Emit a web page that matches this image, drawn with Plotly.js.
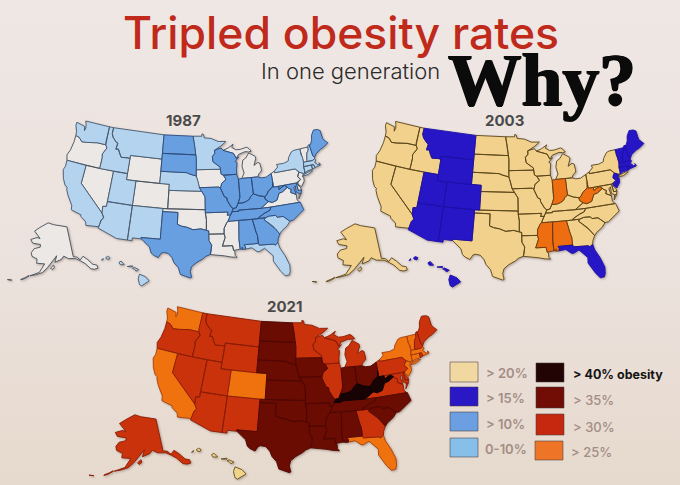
<!DOCTYPE html><html><head><meta charset="utf-8"><script src="https://cdn.plot.ly/plotly-3.0.1.min.js"></script>
<style>html,body{margin:0;padding:0;background:linear-gradient(180deg,#efe7e4 0%,#ece2dd 55%,#e6d9cd 100%);width:680px;height:485px;overflow:hidden}
.cartesianlayer{filter:drop-shadow(1px 1px 1px rgba(60,40,30,.35))}</style></head><body><div id="c" style="width:680px;height:485px"></div><script>
// State outlines, longitude / latitude pairs
const WA=[-124.7,48.4,-123.1,48.15,-122.7,48.1,-122.45,47.4,-122.3,47.9,-122.5,48.5,-122.8,49,-117.03,49,-117.04,46.42,-116.92,45.99,-118.98,46,-119.3,45.93,-121.2,45.65,-122.3,45.55,-122.8,45.9,-123.2,46.15,-124,46.27,-124.1,46.9,-124.7,47.9];
const OR=[-124,46.27,-123.2,46.15,-122.8,45.9,-122.3,45.55,-121.2,45.65,-119.3,45.93,-118.98,46,-116.92,45.99,-116.5,45.5,-117.2,44.4,-117.03,43.8,-117.03,42,-124.2,42,-124.55,42.85,-124.15,43.8,-123.95,45.2];
const CA=[-124.2,42,-120,42,-120,39,-114.63,35,-114.13,34.3,-114.5,33.9,-114.72,32.72,-117.12,32.53,-117.3,33.1,-118.4,33.75,-118.5,34.03,-119.2,34.15,-120.5,34.45,-120.65,35.15,-121.9,36.6,-122.5,37.5,-122.5,37.8,-123,38,-123.75,39,-124.35,40.4,-124.1,41];
const NV=[-120,42,-114.04,42,-114.04,36.2,-114.75,36.1,-114.63,35,-120,39];
const ID=[-117.03,49,-116.05,49,-116.05,48,-115.7,47.45,-114.7,46.7,-114.35,46.65,-114.5,45.6,-113.95,45.7,-113.45,44.95,-113,44.45,-111.5,44.55,-111.05,44.48,-111.05,42,-117.03,42,-117.03,43.8,-117.2,44.4,-116.5,45.5,-116.92,45.99,-117.04,46.42];
const MT=[-116.05,49,-104.05,49,-104.05,45,-111.05,45,-111.05,44.48,-111.5,44.55,-113,44.45,-113.45,44.95,-113.95,45.7,-114.5,45.6,-114.35,46.65,-114.7,46.7,-115.7,47.45,-116.05,48];
const WY=[-111.05,45,-104.05,45,-104.05,41,-111.05,41];
const UT=[-114.04,42,-111.05,42,-111.05,41,-109.05,41,-109.05,37,-114.04,37];
const CO=[-109.05,41,-102.05,41,-102.05,37,-109.05,37];
const AZ=[-114.04,37,-109.05,37,-109.05,31.33,-111.07,31.33,-114.81,32.5,-114.72,32.72,-114.5,33.9,-114.13,34.3,-114.63,35,-114.75,36.1,-114.04,36.2];
const NM=[-109.05,37,-103,37,-103.04,32,-106.62,32,-106.53,31.78,-108.2,31.78,-108.2,31.33,-109.05,31.33];
const ND=[-104.05,49,-97.23,49,-96.85,47.5,-96.56,45.93,-104.05,45.94];
const SD=[-104.05,45.94,-96.56,45.93,-96.45,45.3,-96.45,43.5,-96.45,42.49,-97.9,42.8,-98.5,43,-104.05,43];
const NE=[-104.05,43,-98.5,43,-97.9,42.8,-96.45,42.49,-96.1,41.7,-95.77,40.58,-95.3,40,-102.05,40,-102.05,41,-104.05,41];
const KS=[-102.05,40,-95.3,40,-94.62,39.1,-94.62,37,-102.05,37];
const OK=[-103,37,-94.62,37,-94.62,36.5,-94.43,35.4,-94.48,33.64,-95.5,33.9,-97,33.75,-98.1,34.13,-99.2,34.3,-100,34.56,-100,36.5,-103,36.5];
const TX=[-106.62,32,-103.04,32,-103,36.5,-100,36.5,-100,34.56,-99.2,34.3,-98.1,34.13,-97,33.75,-95.5,33.9,-94.48,33.64,-94.04,33.55,-94.04,33.02,-94.04,32,-93.55,31.2,-93.7,30.1,-93.85,29.7,-94.7,29.4,-95.2,29,-96.4,28.35,-97.2,27.7,-97.4,26.9,-97.15,25.96,-97.4,25.85,-98.2,26.06,-99.1,26.4,-99.5,27.5,-100.3,28.3,-100.7,29.1,-101.4,29.77,-102.3,29.88,-102.7,29.7,-103.15,28.98,-104,29.3,-104.5,29.65,-104.9,30.6,-106,31.4,-106.53,31.78];
const MN=[-97.23,49,-95.15,49,-95.15,49.38,-94.8,49.3,-94.6,48.72,-93,48.6,-91.4,48.05,-89.6,48,-90.8,47.3,-92.05,46.72,-92.3,46.66,-92.3,46.1,-92.87,45.6,-92.75,44.75,-91.25,43.85,-91.22,43.5,-96.45,43.5,-96.45,45.3,-96.56,45.93,-96.85,47.5];
const IA=[-96.45,43.5,-91.22,43.5,-91.1,42.7,-90.65,42.5,-90.15,41.8,-91.1,41.2,-91.4,40.4,-91.73,40.61,-95.77,40.58,-96.1,41.7,-96.45,42.49];
const MO=[-95.77,40.58,-91.73,40.61,-91.4,40.4,-90.7,39,-90.2,38.8,-90.2,38.4,-89.5,37.3,-89.1,37,-89.4,36.5,-89.7,36,-90.37,36,-90.15,36.5,-94.62,36.5,-94.62,37,-94.62,39.1,-95.3,40];
const AR=[-94.62,36.5,-90.15,36.5,-90.37,36,-89.7,36,-90.3,35,-90.6,34.7,-91.1,33.9,-91.17,33,-94.04,33.02,-94.04,33.55,-94.48,33.64,-94.43,35.4];
const LA=[-94.04,33.02,-91.17,33,-91,32.4,-91.6,31,-89.75,31,-89.6,30.2,-89.4,30.05,-89.4,29.4,-89.1,29.05,-90.1,29.15,-91.3,29.4,-92.3,29.55,-93.85,29.7,-93.7,30.1,-93.55,31.2,-94.04,32];
const MS=[-91.17,33,-91.1,33.9,-90.6,34.7,-90.3,35,-88.2,35,-88.47,31.9,-88.4,30.35,-89.6,30.2,-89.75,31,-91.6,31,-91,32.4];
const AL=[-88.2,35,-85.6,35,-85.18,32.87,-85,32.3,-85,31,-87.6,31,-87.6,30.85,-87.4,30.65,-87.5,30.28,-88,30.25,-88,30.65,-88.1,30.3,-88.4,30.35,-88.47,31.9];
const TN=[-90.3,35,-89.7,36,-89.4,36.5,-88.07,36.5,-88.07,36.68,-83.68,36.6,-81.68,36.59,-82,36.1,-83.1,35.75,-84.3,35.2,-84.32,35,-85.6,35,-88.2,35];
const KY=[-89.4,36.5,-89.1,37,-88.5,37.1,-88.05,37.8,-87.1,37.8,-86.3,38,-85.7,38.3,-85.4,38.7,-84.8,39.1,-84.2,38.8,-83.7,38.65,-82.6,38.42,-82.6,38,-81.97,37.54,-83.68,36.6,-88.07,36.68,-88.07,36.5];
const IL=[-90.65,42.5,-87.8,42.5,-87.55,41.7,-87.53,39.35,-87.6,38.7,-88.05,37.8,-88.5,37.1,-89.1,37,-89.5,37.3,-90.2,38.4,-90.2,38.8,-90.7,39,-91.4,40.4,-91.1,41.2,-90.15,41.8];
const WI=[-92.3,46.66,-92.05,46.72,-90.8,46.95,-90.4,46.55,-88.1,45.95,-87.6,45.1,-87,45.3,-87.9,44.6,-87.5,44.4,-87.75,43.3,-87.8,42.5,-90.65,42.5,-91.1,42.7,-91.22,43.5,-91.25,43.85,-92.75,44.75,-92.87,45.6,-92.3,46.1];
const MI=[-86.82,41.76,-84.8,41.75,-83.45,41.73,-83.1,42.2,-82.5,42.6,-82.45,43,-82.6,43.9,-83,44.05,-83.9,43.65,-83.3,44.8,-83.4,45.1,-84.7,45.78,-85.5,45,-86.2,44.7,-86.5,43.7,-86.2,42.6,null,null,-90.4,46.55,-88.1,45.95,-87.6,45.1,-87,45.7,-85.5,46.05,-84.7,45.95,-84.1,46,-84.5,46.45,-85,46.75,-86.5,46.5,-87.5,46.5,-88.4,46.95,-88,47.45,-89.2,46.9];
const IN=[-87.53,41.7,-87.2,41.75,-86.82,41.76,-84.8,41.75,-84.8,39.1,-85.4,38.7,-85.7,38.3,-86.3,38,-87.1,37.8,-88.05,37.8,-87.6,38.7,-87.53,39.35];
const OH=[-84.8,41.75,-83.45,41.73,-82.7,41.5,-81.7,41.5,-80.52,41.97,-80.52,40.64,-80.7,39.8,-81.7,39.2,-82.2,38.6,-82.6,38.42,-83.7,38.65,-84.2,38.8,-84.8,39.1];
const WV=[-80.52,40.64,-80.52,39.72,-79.48,39.72,-79.48,39.2,-78.75,39.55,-78.2,39.68,-77.75,39.32,-78.35,39,-78.87,38.75,-79.65,38.6,-80.3,37.55,-81.3,37.3,-81.97,37.54,-82.6,38,-82.6,38.42,-82.2,38.6,-81.7,39.2,-80.7,39.8];
const VA=[-83.68,36.6,-81.97,37.54,-81.3,37.3,-80.3,37.55,-79.65,38.6,-78.87,38.75,-78.35,39,-77.75,39.32,-77.5,39.1,-77.05,38.85,-77.3,38.4,-76.3,37.9,-76.35,37,-75.95,36.55,-81.68,36.59,null,null,-75.95,37.15,-75.3,37.9,-75.65,37.95];
const MD=[-79.48,39.72,-75.79,39.72,-75.7,38.46,-75.05,38.45,-75.3,37.9,-75.65,37.95,-76.2,38.3,-76.1,39.3,-76.5,39.1,-76.45,38.4,-76.3,37.9,-77.3,38.4,-77.05,38.85,-77.5,39.1,-77.75,39.32,-78.2,39.68,-78.75,39.55,-79.48,39.2];
const DE=[-75.79,39.72,-75.4,39.8,-75.6,39.45,-75.1,38.8,-75.05,38.45,-75.7,38.46];
const PA=[-80.52,41.97,-79.76,42.27,-79.76,42,-75.35,42,-74.7,41.36,-75.1,40.95,-75.2,40.65,-74.72,40.15,-75.4,39.8,-75.79,39.72,-80.52,39.72,-80.52,40.64];
const NJ=[-74.7,41.36,-73.9,41,-74.25,40.5,-74,40.45,-74.1,39.75,-74.9,38.95,-75.5,39.5,-75.4,39.8,-74.72,40.15,-75.2,40.65,-75.1,40.95];
const NY=[-79.76,42,-79.76,42.27,-78.9,42.85,-79.05,43.27,-77.5,43.25,-76.4,43.5,-76.2,44,-75.3,44.85,-74.7,45,-73.35,45,-73.4,44,-73.25,43.6,-73.27,42.75,-73.5,42.05,-73.5,41.3,-73.65,41,-73.9,41,-74.7,41.36,-75.35,42,null,null,-74,40.6,-73.75,40.85,-72.3,41.15,-71.9,41.05,-73,40.65];
const CT=[-73.5,42.05,-71.8,42.02,-71.8,41.32,-72.9,41.25,-73.65,41,-73.5,41.3];
const RI=[-71.8,42.02,-71.38,42.02,-71.2,41.5,-71.8,41.32];
const MA=[-73.5,42.05,-73.27,42.75,-71.3,42.7,-70.82,42.87,-70.6,42.65,-71,42.3,-70.6,41.95,-70.55,41.8,-70,41.78,-70.2,42.08,-69.95,41.9,-70,41.65,-70.65,41.55,-71.2,41.5,-71.38,42.02,-71.8,42.02];
const VT=[-73.35,45,-71.5,45.01,-71.6,44.5,-72.05,44.1,-72.45,43,-72.46,42.73,-73.27,42.75,-73.25,43.6,-73.4,44];
const NH=[-71.5,45.01,-71.3,45.3,-71.08,45.3,-70.98,43.4,-70.7,43.07,-70.82,42.87,-71.3,42.7,-72.46,42.73,-72.45,43,-72.05,44.1,-71.6,44.5];
const ME=[-71.08,45.3,-70.85,45.25,-70.3,45.9,-70,46.7,-69.23,47.46,-68.3,47.36,-67.8,47.07,-67.8,45.7,-67.45,45.25,-67,44.8,-68.2,44.3,-69,44.1,-70.2,43.6,-70.7,43.07,-70.98,43.4];
const NC=[-84.32,35,-84.3,35.2,-83.1,35.75,-82,36.1,-81.68,36.59,-75.85,36.55,-75.5,35.25,-76.5,34.7,-77.9,33.9,-78.55,33.85,-79.67,34.8,-80.8,34.82,-81.05,35.15,-82.3,35.2,-83.1,35];
const SC=[-83.1,35,-82.3,35.2,-81.05,35.15,-80.8,34.82,-79.67,34.8,-78.55,33.85,-79.2,33.2,-80.4,32.5,-80.85,32.05,-81.5,33,-81.9,33.5,-83.35,34.7];
const GA=[-85.6,35,-84.32,35,-83.1,35,-83.35,34.7,-81.9,33.5,-81.5,33,-80.85,32.05,-81.3,31.3,-81.45,30.72,-82.05,30.36,-82.2,30.57,-84.86,30.7,-85,31,-85,32.3,-85.18,32.87];
const FL=[-87.6,31,-85,31,-84.86,30.7,-82.2,30.57,-82.05,30.36,-81.45,30.72,-81.25,29.8,-80.55,28.4,-80.03,26.8,-80.15,25.75,-80.4,25.2,-81.1,25.15,-81.75,26,-82.1,26.7,-82.75,27.8,-82.65,28.7,-83.4,29.5,-84,30.1,-85,29.65,-85.4,29.7,-86.3,30.4,-87.5,30.28,-87.4,30.65,-87.6,30.85];
const AK=[-141,69.65,-141,60.3,-139,60,-137.5,58.9,-135.5,59.8,-133.5,58.4,-131.8,56.6,-130,56,-130,55,-131.8,55,-133.5,55.5,-135.5,57.5,-137.5,58.6,-139.8,59.6,-144,60,-146.5,60.9,-148,60,-151.8,59.2,-150.6,61.2,-153.5,59.5,-156,57.5,-158.5,56,-161.5,55.2,-164.5,54.6,-160,56,-157.5,58.7,-162,58.7,-162,60,-165.2,60.6,-166,61.7,-164.7,63,-161,63.7,-161,64.5,-166.3,64.6,-168.1,65.6,-164,66.5,-161.8,66.3,-163.7,67.2,-166.7,68.35,-163,69.7,-156.5,71.35,-152,70.8,-148,70.4,null,null,-152.5,58.4,-154.2,57.5,-153.5,57,-152.2,57.6,null,null,-164.9,54.5,-167,53.4,-168.5,52.9,-168.4,53.1,-166.5,53.9,-165,54.7,null,null,-172.5,52.2,-174.5,52,-174.4,52.2,-172.6,52.4];
const HI=[-159.75,22.1,-159.55,22.23,-159.3,22.1,-159.4,21.88,-159.7,21.95,null,null,-158.25,21.55,-158,21.7,-157.65,21.3,-158.1,21.3,null,null,-157.3,21.1,-156.7,21.17,-156.72,21.05,-157.25,21.08,null,null,-156.7,20.9,-156.5,21,-156,20.75,-156.3,20.58,-156.45,20.78,null,null,-155.9,20.25,-155.2,19.95,-154.8,19.5,-155.65,18.95,-155.9,19.1,-156.05,19.75,null,null,-160.25,21.8,-160.05,22,-160.05,21.85];

// Obesity band of each state, by year
const y1987None=[OR,NV,WY,CO,KS,OK,AR,MS,LA,IA,VA,PA,NJ,DE,MI,VT,AK];
const y1987Low=[WA,ID,MT,CA,UT,AZ,NM,NE,MN,NY,SC,FL,NH,MA,CT,RI,HI];
const y1987Mid=[ND,SD,TX,MO,WI,IL,IN,OH,KY,TN,WV,MD,NC,GA,AL,ME];
const y2003Tan=[WA,OR,CA,NV,ID,ND,SD,NE,KS,OK,TX,MN,IA,MO,AR,LA,WI,IL,MI,OH,KY,TN,VA,MD,DE,PA,NY,NC,SC,GA,AK];
const y2003Blue=[MT,WY,UT,CO,AZ,NM,FL,ME,NH,VT,MA,CT,RI,NJ,HI];
const y2003Orange=[IN,WV,MS,AL];
const y2021Tan=[HI];
const y2021Orange=[WA,CA,CO,FL,NY,NJ,VT,MA,CT];
const y2021Red=[OR,ID,MT,WY,NV,UT,AZ,NM,MN,WI,IL,MI,PA,ME,NH,RI,MD,DE,VA,GA,AK];
const y2021Dark=[ND,SD,NE,KS,OK,TX,IA,MO,AR,LA,MS,AL,TN,SC,NC,IN,OH];
const y2021Black=[KY,WV];

const legendLeftLabels=['> 20%','> 15%','> 10%','0-10%'];
const legendRightLabels=['> 40% obesity','> 35%','> 30%','> 25%'];
const legendLeftColors=['#f0d8a0','#2a18c4','#6b9fe2','#86c0ea'];
const legendRightColors=['#220405','#720d06','#c5280e','#ee7428'];

const maps=[
 {year:'1987',groups:[[y1987None,'#ece8e6','#46505a'],[y1987Low,'#b4d3ef','#46586c'],[y1987Mid,'#689fe0','#2c4a78']],
  us:[367,350,198.3,206.7],ak:[200,187,51,292.4],hi:[8.75,9,143,280]},
 {year:'2003',groups:[[y2003Tan,'#f2d18c','#5a4518'],[y2003Orange,'#ee6d10','#6a3a10'],[y2003Blue,'#2716c6','#1d10a8']],
  us:[376.5,353.6,511,208],ak:[210,190,358,294.5],hi:[9.5,9.3,454,281]},
 {year:'2021',groups:[[y2021Tan,'#efd58c','#6a5020'],[y2021Orange,'#f0720f','#a8400a'],[y2021Red,'#c9320a','#8a1c06'],[y2021Dark,'#6b0c03','#4e0702'],[y2021Black,'#170304','#0c0102']],
  us:[393.5,370,298,397.3],ak:[225,199,138,488.8],hi:[10,9.4,239,473]}
];

function albers(p1,p2,lat0,lon0){
  const r=Math.PI/180,n=(Math.sin(p1*r)+Math.sin(p2*r))/2,
    C=Math.cos(p1*r)**2+2*n*Math.sin(p1*r),rho0=Math.sqrt(C-2*n*Math.sin(lat0*r))/n;
  return (lon,lat)=>{const rho=Math.sqrt(C-2*n*Math.sin(lat*r))/n,t=n*(lon-lon0)*r;
    return [rho*Math.sin(t),rho0-rho*Math.cos(t)];};
}
const projections={us:albers(29.5,45.5,37.5,-96),ak:albers(55,65,50,-154),hi:(lon,lat)=>[lon+155.5,lat-19.6]};
const regionOf=s=>s===AK?'ak':s===HI?'hi':'us';

const traces=[],layout={width:680,height:485,margin:{l:0,r:0,t:0,b:0},paper_bgcolor:'rgba(0,0,0,0)',plot_bgcolor:'rgba(0,0,0,0)',showlegend:false,shapes:[],annotations:[],font:{family:'Inter'}};
let axis=0;
maps.forEach(m=>{
  ['us','ak','hi'].forEach(reg=>{
    axis++;
    const suf=axis===1?'':String(axis),[sx,sy,tx,ty]=m[reg];
    layout['xaxis'+suf]={domain:[0,1],range:[-tx/sx,(680-tx)/sx],visible:false,fixedrange:true,anchor:'y'+suf};
    layout['yaxis'+suf]={domain:[0,1],range:[(ty-485)/sy,ty/sy],visible:false,fixedrange:true,anchor:'x'+suf};
    m.groups.forEach(([states,color,edge])=>{
      const xs=[],ys=[];
      states.filter(s=>regionOf(s)===reg).forEach(s=>{
        let start=0;
        for(let i=0;i<=s.length;i+=2){
          if(i===s.length||s[i]===null){
            if(xs.length){xs.push(null);ys.push(null);}
            for(let j=start;j<i;j+=2){const q=projections[reg](s[j],s[j+1]);xs.push(q[0]);ys.push(q[1]);}
            const q0=projections[reg](s[start],s[start+1]);xs.push(q0[0]);ys.push(q0[1]);
            start=i+2;
          }
        }
      });
      if(xs.length)traces.push({type:'scatter',mode:'lines',x:xs,y:ys,xaxis:'x'+suf,yaxis:'y'+suf,fill:'toself',fillcolor:color,
        line:{color:edge,width:0.9},hoverinfo:'skip'});
    });
  });
});

const px=x=>x/680,py=y=>1-y/485;
function text(t,x,y,size,color,family,anchor,weight,shadow){
  const font={size:size,color:color,family:family};
  if(weight)font.weight=weight;
  if(shadow)font.shadow=shadow;
  layout.annotations.push({text:t,xref:'paper',yref:'paper',x:px(x),y:py(y),xanchor:anchor||'left',yanchor:'middle',showarrow:false,
    font:font,borderpad:0,borderwidth:0});
}
text('Tripled obesity rates',340.5,33,44.5,'#bf2a1b','Inter','center',500);
text('In one generation',350.5,71,22,'#2a2a2a','Inter','center',300);
text('Why?',542,81,73.5,'#0b0b0b','Liberation Serif','center',700,'1px 0 0 #0b0b0b,-1px 0 0 #0b0b0b,0 1px 0 #0b0b0b');
const yearPos=[[183,120],[504,120],[284,306]];
maps.forEach((m,i)=>text(m.year,yearPos[i][0],yearPos[i][1],15,'#4a4a4a','Inter','center',700));

const leftBoxes=[[450,362,478,382],[450,387,478,406],[450,412,478,431],[450,438,478,457]];
const rightBoxes=[[536,363,564,382],[536,387,564,408],[536,414,564,435],[535,441,563,460]];
const leftText=[[486,373],[486,398],[486,424],[485,449]];
const rightText=[[573,374],[573,400],[573,427],[571,452]];
function box(b,c){layout.shapes.push({type:'rect',xref:'paper',yref:'paper',x0:px(b[0]),x1:px(b[2]),y0:py(b[1]),y1:py(b[3]),fillcolor:c,line:{color:'rgba(70,60,60,.55)',width:1}});}
legendLeftLabels.forEach((l,i)=>{box(leftBoxes[i],legendLeftColors[i]);text(l,leftText[i][0],leftText[i][1],13,'#a38d84','Inter','left',600);});
legendRightLabels.forEach((l,i)=>{box(rightBoxes[i],legendRightColors[i]);
  text(l,rightText[i][0],rightText[i][1],i===0?12.5:13,i===0?'#141414':'#a38d84','Inter','left',i===0?700:500);});

Plotly.newPlot('c',traces,layout,{displayModeBar:false,staticPlot:true});
</script></body></html>
